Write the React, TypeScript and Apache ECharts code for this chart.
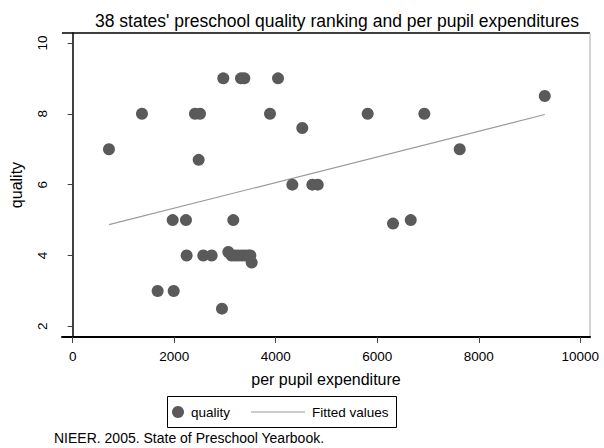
import React, { useEffect, useRef } from "react";
import * as echarts from "echarts";

const expenditure = [
  715, 1365, 2409, 2508, 2482, 2967, 3316, 3381, 4045, 3887,
  4523, 4327, 4721, 4827, 5811, 6927, 7624, 9299, 1970, 2232,
  3164, 2245, 2573, 2738, 3066, 3130, 3197, 3260, 3329, 3395,
  3460, 3526, 1674, 1990, 2941, 6310, 6659, 3500,
];
const quality = [
  7, 8, 8, 8, 6.7, 9, 9, 9, 9, 8,
  7.6, 6, 6, 6, 8, 8, 7, 8.5, 5, 5,
  5, 4, 4, 4, 4.1, 4, 4, 4, 4, 4,
  4, 3.8, 3, 3, 2.5, 4.9, 5, 4,
];
const fitX = [715, 9299];
const fitY = [4.87, 7.98];
const xTicks = [0, 2000, 4000, 6000, 8000, 10000];
const yTicks = [2, 4, 6, 8, 10];

const FONT = "'Liberation Sans', Arial, sans-serif";

export default function App() {
  const ref = useRef<HTMLDivElement>(null);
  useEffect(() => {
    document.body.style.margin = "0";
    if (!ref.current) return;
    const chart = echarts.init(ref.current, undefined, { renderer: "svg" });
    const gl = 62, gt = 33, gr = 590, gb = 337;
    chart.setOption({
      animation: false,
      backgroundColor: "#ffffff",
      textStyle: { fontFamily: FONT },
      title: {
        text: "38 states' preschool quality ranking and per pupil expenditures",
        left: 332,
        textAlign: "center",
        top: 7,
        textStyle: { fontFamily: FONT, fontSize: 17.5, fontWeight: "normal", color: "#000" },
      },
      grid: { left: gl, top: gt, right: 604 - gr, bottom: 448 - gb },
      xAxis: {
        type: "value",
        min: -210,
        max: 10190,
        name: "per pupil expenditure",
        nameLocation: "middle",
        nameGap: 34,
        nameTextStyle: { fontFamily: FONT, fontSize: 16, color: "#000" },
        axisLine: { show: true, lineStyle: { color: "#000", width: 2 } },
        axisTick: { show: true, length: 6, customValues: xTicks, lineStyle: { color: "#444" } },
        axisLabel: {
          customValues: xTicks,
          fontSize: 13.5,
          color: "#000",
          margin: 12,
          fontFamily: FONT,
          formatter: (v: number) => String(v),
        },
        splitLine: { show: false },
      },
      yAxis: {
        type: "value",
        min: 1.7,
        max: 10.28,
        name: "quality",
        nameLocation: "middle",
        nameGap: 38,
        nameRotate: 90,
        nameTextStyle: { fontFamily: FONT, fontSize: 16, color: "#000" },
        axisLine: { show: true, lineStyle: { color: "#000", width: 1.5 } },
        axisTick: { show: true, length: 5, customValues: yTicks, lineStyle: { color: "#444" } },
        axisLabel: {
          customValues: yTicks,
          rotate: 90,
          fontSize: 13.5,
          color: "#000",
          margin: 13,
          fontFamily: FONT,
          formatter: (v: number) => String(v),
        },
        splitLine: { show: false },
      },
      series: [
        {
          name: "quality",
          type: "scatter",
          symbol: "circle",
          symbolSize: 12,
          itemStyle: { color: "#5a5a5a", opacity: 1 },
          data: expenditure.map((x, i) => [x, quality[i]]),
          z: 3,
        },
        {
          name: "Fitted values",
          type: "line",
          showSymbol: false,
          lineStyle: { color: "#9a9a9a", width: 1.2 },
          data: fitX.map((x, i) => [x, fitY[i]]),
          z: 2,
        },
      ],
      graphic: [
        { type: "line", shape: { x1: gl, y1: gt, x2: gr, y2: gt }, style: { stroke: "#000", lineWidth: 1.5 } },
        { type: "line", shape: { x1: gr, y1: gt, x2: gr, y2: gb }, style: { stroke: "#aaa", lineWidth: 1 } },
        { type: "rect", shape: { x: 167.5, y: 396.5, width: 229, height: 31 }, style: { fill: "#fff", stroke: "#000", lineWidth: 1 } },
        { type: "circle", shape: { cx: 178, cy: 412, r: 6 }, style: { fill: "#5a5a5a" } },
        { type: "text", x: 191, y: 412, style: { text: "quality", fontFamily: FONT, fontSize: 13.5, fill: "#000", verticalAlign: "middle" } },
        { type: "line", shape: { x1: 251, y1: 412, x2: 305, y2: 412 }, style: { stroke: "#9a9a9a", lineWidth: 1.2 } },
        { type: "text", x: 312, y: 412, style: { text: "Fitted values", fontFamily: FONT, fontSize: 13.5, fill: "#000", verticalAlign: "middle" } },
        { type: "text", x: 54, y: 438, style: { text: "NIEER. 2005. State of Preschool Yearbook.", fontFamily: FONT, fontSize: 14, fill: "#000", verticalAlign: "middle" } },
      ],
    });
    return () => chart.dispose();
  }, []);
  return <div ref={ref} style={{ width: 604, height: 448 }} />;
}
